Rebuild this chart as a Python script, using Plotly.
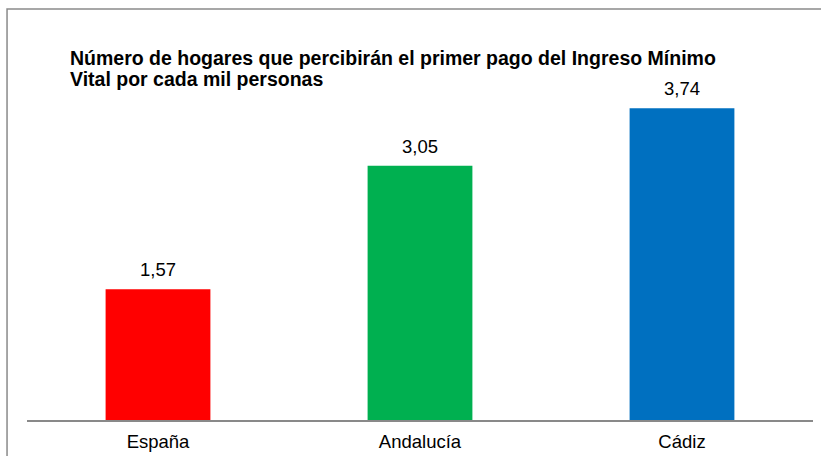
import plotly.graph_objects as go

categories = ["España", "Andalucía", "Cádiz"]
values = [1.57, 3.05, 3.74]
colors = ["#FF0000", "#00B050", "#0070C0"]
title_lines = ["Número de hogares que percibirán el primer pago del Ingreso Mínimo",
               "Vital por cada mil personas"]

FONT = "Liberation Sans, Arial"

fig = go.Figure(go.Bar(
    x=categories, y=values, marker=dict(color=colors, line=dict(width=0)),
    width=0.4, hoverinfo="x+y",
))

title_y = [0.953, 0.898]
annotations = [dict(
    text="<b>" + line + "</b>",
    xref="paper", yref="paper", x=0.052, y=yy, xanchor="left", yanchor="middle",
    align="left", showarrow=False,
    font=dict(family=FONT, size=19.5, color="#000000"))
    for line, yy in zip(title_lines, title_y)]

annotations += [dict(
    text=f"{v:.2f}".replace(".", ","), x=c, y=v, xref="x", yref="y",
    xanchor="center", yanchor="bottom", yshift=7, showarrow=False,
    font=dict(family=FONT, size=18.5, color="#000000"))
    for c, v in zip(categories, values)]

fig.update_layout(
    width=821, height=456,
    margin=dict(l=27, r=8, t=40, b=36, autoexpand=False),
    paper_bgcolor="white", plot_bgcolor="white",
    separators=",.",
    showlegend=False,
    font=dict(family=FONT, color="#000000"),
    xaxis=dict(showline=True, linecolor="#898989", linewidth=1.5, ticks="",
               ticklabelstandoff=4, automargin=False,
               tickfont=dict(size=18.5, color="#000000"), showgrid=False),
    yaxis=dict(range=[0, 4.56], visible=False, showgrid=False, zeroline=False,
               automargin=False),
    annotations=annotations,
    shapes=[dict(type="path", xref="paper", yref="paper",
                 path="M -0.0254,-0.2 L -0.0254,1.0816 L 1.03,1.0816",
                 line=dict(color="#8A8A8A", width=1.5))],
)

fig.write_html("out.html", config={"displayModeBar": False},
               post_script="document.body.style.margin='0px';")
